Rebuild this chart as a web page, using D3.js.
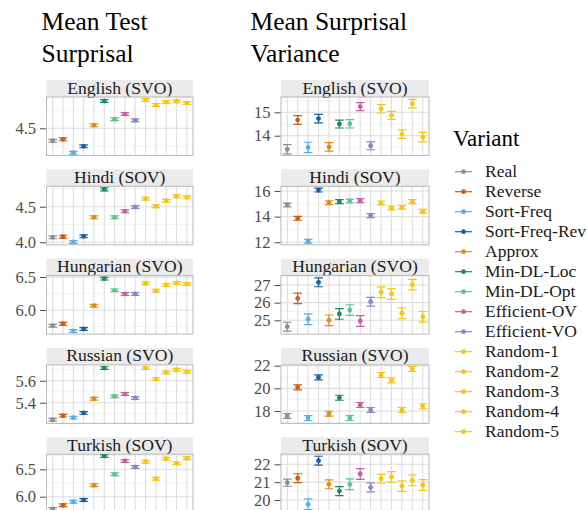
<!DOCTYPE html>
<html>
<head>
<meta charset="utf-8">
<script src="https://cdn.jsdelivr.net/npm/d3@7"></script>
<style>
  body { margin: 0; background: #fff; }
  svg, svg text { font-family: "Liberation Serif", "DejaVu Serif", "Times New Roman", Times, serif; }
</style>
</head>
<body>
<div id="chart"></div>
<script>
// categories
var variants = ['Real', 'Reverse', 'Sort-Freq', 'Sort-Freq-Rev', 'Approx', 'Min-DL-Loc',
  'Min-DL-Opt', 'Efficient-OV', 'Efficient-VO', 'Random-1', 'Random-2', 'Random-3',
  'Random-4', 'Random-5'];
var languages = ['English (SVO)', 'Hindi (SOV)', 'Hungarian (SVO)', 'Russian (SVO)', 'Turkish (SOV)'];
var colors = ['#8e8e8e', '#d05a12', '#5aaee8', '#1a5ea3', '#df8e15', '#1a8a5f', '#5dc48f',
  '#c6619f', '#8c84c6', '#f8c511', '#f8c511', '#f8c511', '#f8c511', '#f8c511'];

// Mean Test Surprisal (one array per language, in variant order)
var surpEnglish   = [4.325, 4.345, 4.156, 4.246, 4.542, 4.885, 4.627, 4.701, 4.613, 4.899, 4.828, 4.870, 4.880, 4.856];
var surpHindi     = [4.070, 4.079, 4.004, 4.084, 4.351, 4.744, 4.351, 4.435, 4.496, 4.612, 4.506, 4.584, 4.646, 4.632];
var surpHungarian = [5.762, 5.792, 5.682, 5.712, 6.065, 6.474, 6.298, 6.242, 6.242, 6.405, 6.293, 6.379, 6.409, 6.394];
var surpRussian   = [5.245, 5.282, 5.264, 5.307, 5.436, 5.715, 5.458, 5.479, 5.443, 5.715, 5.615, 5.676, 5.700, 5.682];
var surpTurkish   = [5.776, 5.843, 5.909, 5.940, 6.208, 6.743, 6.409, 6.652, 6.542, 6.639, 6.328, 6.693, 6.609, 6.703];
var surpErr = [0.02, 0.02, 0.02, 0.012, 0.025];

// Mean Surprisal Variance
var varEnglish   = [13.42, 14.67, 13.50, 14.73, 13.52, 14.50, 14.51, 15.24, 13.57, 15.15, 14.87, 14.07, 15.37, 13.94];
var varHindi     = [14.91, 13.87, 12.08, 16.07, 15.09, 15.17, 15.22, 15.25, 14.08, 15.07, 14.68, 14.73, 15.17, 14.42];
var varHungarian = [24.64, 26.24, 25.06, 27.15, 25.00, 25.36, 25.58, 24.96, 26.05, 26.59, 26.49, 25.40, 27.02, 25.20];
var varRussian   = [17.56, 20.09, 17.38, 20.97, 17.76, 19.17, 17.38, 18.53, 18.09, 21.18, 20.71, 18.09, 21.71, 18.42];
var varTurkish   = [20.97, 21.22, 19.76, 22.20, 20.88, 20.50, 20.88, 21.46, 20.71, 21.19, 21.29, 20.78, 21.10, 20.84];
var varErrEnglish   = [0.20, 0.19, 0.22, 0.18, 0.18, 0.17, 0.18, 0.17, 0.17, 0.18, 0.17, 0.18, 0.18, 0.20];
var varErrHindi     = [0.15, 0.15, 0.15, 0.15, 0.15, 0.15, 0.15, 0.15, 0.15, 0.15, 0.15, 0.15, 0.15, 0.15];
var varErrHungarian = [0.25, 0.30, 0.30, 0.25, 0.30, 0.30, 0.30, 0.30, 0.25, 0.30, 0.30, 0.30, 0.30, 0.30];
var varErrRussian   = [0.22, 0.22, 0.22, 0.22, 0.22, 0.22, 0.22, 0.22, 0.22, 0.22, 0.22, 0.22, 0.22, 0.22];
var varErrTurkish   = [0.20, 0.25, 0.30, 0.25, 0.25, 0.25, 0.30, 0.30, 0.25, 0.25, 0.30, 0.30, 0.30, 0.30];

// y limits and tick labels per facet
var surpLimits = [[4.117, 4.941], [3.965, 4.787], [5.635, 6.521], [5.212, 5.744], [5.708, 6.776]];
var surpTicks = [[4.0, 4.5, 5.0], [4.0, 4.5, 5.0], [5.5, 6.0, 6.5], [5.2, 5.4, 5.6, 5.8], [5.5, 6.0, 6.5, 7.0]];
var varLimits = [[13.154, 15.654], [11.805, 16.365], [24.218, 27.533], [16.905, 22.071], [19.289, 22.566]];
var varTicks = [[13, 14, 15, 16], [12, 14, 16], [24, 25, 26, 27, 28], [16, 18, 20, 22], [19, 20, 21, 22, 23]];

var surpData = [surpEnglish, surpHindi, surpHungarian, surpRussian, surpTurkish];
var varData = [varEnglish, varHindi, varHungarian, varRussian, varTurkish];
var varErrs = [varErrEnglish, varErrHindi, varErrHungarian, varErrRussian, varErrTurkish];

var serif = '"Liberation Serif", "DejaVu Serif", serif';
var width = 587, height = 510;
var svg = d3.select('#chart').append('svg').attr('width', width).attr('height', height)
  .attr('font-family', serif);

var dims = {
  stripTop: 80, stripH: 17, plotH: 58.5, pitch: 89.3,
  left: { x0: 46.5, x1: 193 },
  right: { x0: 281, x1: 429 }
};

// column titles
function title(x, lines) {
  var t = svg.append('text').attr('x', x).attr('y', 30)
    .style('font-family', serif).style('font-size', '25.5px').style('fill', '#000');
  lines.forEach(function (l, i) {
    t.append('tspan').attr('x', x).attr('dy', i === 0 ? 0 : 31.5).text(l);
  });
}
title(41.5, ['Mean Test', 'Surprisal']);
title(250.5, ['Mean Surprisal', 'Variance']);

function drawColumn(col, data, errs, limits, ticks, fmt) {
  var x = d3.scalePoint().domain(variants).range([col.x0, col.x1]).padding(0.6);
  data.forEach(function (vals, li) {
    var top = dims.stripTop + li * dims.pitch;
    var pTop = top + dims.stripH, pBot = pTop + dims.plotH;
    var y = d3.scaleLinear().domain(limits[li]).range([pBot, pTop]);
    var tks = ticks[li];
    var step = tks[1] - tks[0];
    var minor = [];
    for (var t = tks[0] - step / 2; t <= tks[tks.length - 1] + step; t += step) minor.push(t);
    var inside = function (v) { return v >= limits[li][0] && v <= limits[li][1]; };

    var g = svg.append('g');
    // strip
    g.append('rect').attr('x', col.x0).attr('y', top).attr('width', col.x1 - col.x0)
      .attr('height', dims.stripH).attr('fill', '#ebebeb');
    g.append('text').attr('x', (col.x0 + col.x1) / 2).attr('y', top + dims.stripH - 3.5)
      .attr('text-anchor', 'middle').style('font-family', serif).style('font-size', '17.6px')
      .style('fill', '#1a1a1a').text(languages[li]);
    // grid
    g.selectAll('.minor').data(minor.filter(inside)).enter().append('line')
      .attr('x1', col.x0).attr('x2', col.x1)
      .attr('y1', function (d) { return y(d); }).attr('y2', function (d) { return y(d); })
      .attr('stroke', '#ececec').attr('stroke-width', 0.6);
    g.selectAll('.major').data(tks.filter(inside)).enter().append('line')
      .attr('x1', col.x0).attr('x2', col.x1)
      .attr('y1', function (d) { return y(d); }).attr('y2', function (d) { return y(d); })
      .attr('stroke', '#dedede').attr('stroke-width', 1.1);
    g.selectAll('.vgrid').data(variants).enter().append('line')
      .attr('x1', function (d) { return x(d); }).attr('x2', function (d) { return x(d); })
      .attr('y1', pTop).attr('y2', pBot)
      .attr('stroke', '#dedede').attr('stroke-width', 1.1);
    g.append('rect').attr('x', col.x0).attr('y', pTop).attr('width', col.x1 - col.x0)
      .attr('height', dims.plotH).attr('fill', 'none').attr('stroke', '#b8b8b8').attr('stroke-width', 1);

    // y axis
    var axis = d3.axisLeft(y).tickValues(tks.filter(inside)).tickSize(6).tickPadding(4)
      .tickFormat(d3.format(fmt));
    var ag = g.append('g').attr('transform', 'translate(' + (col.x0 - 0.5) + ',0)').call(axis)
      .attr('font-family', serif);
    ag.select('.domain').remove();
    ag.selectAll('.tick line').attr('stroke', '#4d4d4d');
    ag.selectAll('.tick text').style('font-size', '16.5px').style('fill', '#4d4d4d')
      .style('font-family', serif);

    // error bars and points
    var rows = vals.map(function (v, i) {
      var e = Array.isArray(errs[li]) ? errs[li][i] : errs[li];
      return { name: variants[i], v: v, e: e, c: colors[i] };
    });
    var clipId = 'clip' + Math.round(col.x0) + '_' + li;
    g.append('clipPath').attr('id', clipId).append('rect')
      .attr('x', col.x0).attr('y', pTop).attr('width', col.x1 - col.x0).attr('height', dims.plotH);
    var marks = g.append('g').attr('clip-path', 'url(#' + clipId + ')');
    var eb = marks.selectAll('.eb').data(rows).enter().append('g')
      .attr('stroke', function (d) { return d.c; }).attr('stroke-width', 1.2);
    eb.append('line')
      .attr('x1', function (d) { return x(d.name); }).attr('x2', function (d) { return x(d.name); })
      .attr('y1', function (d) { return y(d.v - d.e); }).attr('y2', function (d) { return y(d.v + d.e); });
    [-1, 1].forEach(function (s) {
      eb.append('line')
        .attr('x1', function (d) { return x(d.name) - 4.3; }).attr('x2', function (d) { return x(d.name) + 4.3; })
        .attr('y1', function (d) { return y(d.v + s * d.e); }).attr('y2', function (d) { return y(d.v + s * d.e); });
    });
    marks.selectAll('.pt').data(rows).enter().append('circle')
      .attr('cx', function (d) { return x(d.name); }).attr('cy', function (d) { return y(d.v); })
      .attr('r', 2.4).attr('fill', function (d) { return d.c; });
  });
}

drawColumn(dims.left, surpData, surpErr, surpLimits, surpTicks, '.1f');
drawColumn(dims.right, varData, varErrs, varLimits, varTicks, 'd');

// legend
var legend = svg.append('g').attr('class', 'legend');
legend.append('text').attr('x', 453).attr('y', 146).style('font-family', serif)
  .style('font-size', '23px').style('fill', '#000').text('Variant');
var keys = legend.selectAll('.key').data(variants).enter().append('g')
  .attr('transform', function (d, i) { return 'translate(0,' + (171.7 + i * 20) + ')'; });
keys.append('line').attr('x1', 455).attr('x2', 472).attr('y1', 0).attr('y2', 0)
  .attr('stroke', function (d, i) { return colors[i]; }).attr('stroke-width', 1.2);
keys.append('circle').attr('cx', 463.5).attr('cy', 0).attr('r', 2.4)
  .attr('fill', function (d, i) { return colors[i]; });
keys.append('text').attr('x', 485).attr('y', 5.5).style('font-family', serif)
  .style('font-size', '17.5px').style('fill', '#1a1a1a').text(function (d) { return d; });
</script>
</body>
</html>
